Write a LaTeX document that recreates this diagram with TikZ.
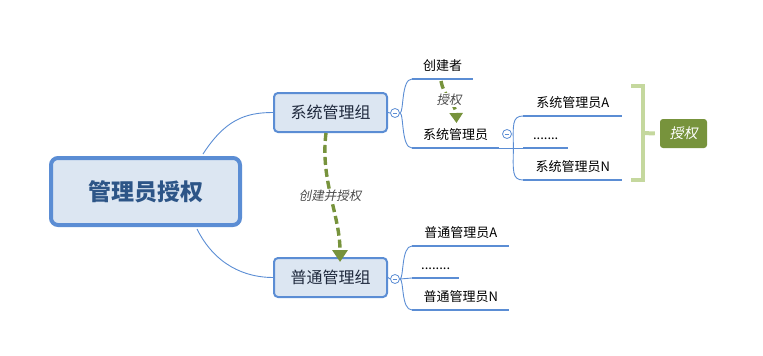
\documentclass[tikz,border=0pt]{standalone}
\usepackage{fontspec}
\setmainfont{Noto Sans CJK SC}
\newfontfamily\itcjk[FakeSlant=0.2]{Noto Sans CJK SC}
\usetikzlibrary{arrows.meta}
\definecolor{mblue}{RGB}{91,141,212}
\definecolor{mfill}{RGB}{220,230,242}
\definecolor{mtext}{RGB}{45,85,135}
\definecolor{dtext}{RGB}{30,40,60}
\definecolor{mgreen}{RGB}{119,147,60}
\definecolor{lgreen}{RGB}{197,216,158}
\tikzset{
  central/.style={draw=mblue, fill=mfill, line width=4pt, rounded corners=7pt,
    minimum width=189pt, minimum height=67pt, inner sep=0pt,
    font=\fontsize{23}{26}\selectfont\bfseries, text=mtext},
  group/.style={draw=mblue, fill=mfill, line width=2pt, rounded corners=4pt,
    minimum width=113pt, minimum height=39pt, inner sep=0pt,
    font=\fontsize{16}{18}\selectfont, text=dtext},
  topic/.style={anchor=south west, inner xsep=0pt, inner ysep=5.5pt,
    text height=11pt, text depth=3pt, font=\fontsize{13}{15}\selectfont, text=black},
  uline/.style={draw=mblue, line width=2.6pt},
  branch/.style={draw=mblue, line width=0.9pt},
  knob/.style={circle, draw=mblue, fill=white, line width=0.8pt, minimum size=9pt, inner sep=0pt,
    path picture={\draw[mblue, line width=0.8pt]
      ([xshift=2.2pt]path picture bounding box.west) -- ([xshift=-2.2pt]path picture bounding box.east);}},
  relarrow/.style={draw=mgreen, line width=3.4pt, dash pattern=on 8pt off 4pt,
    -{Triangle[width=15pt,length=12pt]}},
  rellabel/.style={fill=white, inner sep=1pt, font=\itcjk\fontsize{12.5}{14}\selectfont, text=black!70},
  bracket/.style={draw=lgreen, line width=4pt},
  summary/.style={fill=mgreen, rounded corners=3pt, minimum width=47pt, minimum height=29pt,
    inner sep=0pt, text=white, font=\itcjk\fontsize{14}{16}\selectfont}
}
\begin{document}
\begin{tikzpicture}[x=1pt,y=-1pt]
\useasboundingbox (0,0) rectangle (763,356);
% central and groups
\node[central] (root) at (145.5,191.5) {管理员授权};
\node[group] (sys) at (330.5,112.5) {系统管理组};
\node[group] (gen) at (330.5,277.5) {普通管理组};
\draw[branch] (root.north) ++(57.5,-2) coordinate (rt) .. controls (225,120) and (245,112.5) .. (sys.west);
\draw[branch] (root.south) ++(51.5,2) coordinate (rb) .. controls (215,265) and (245,277.5) .. (gen.west);
% knobs
\node[knob] (k1) at (395,113) {};
\node[knob] (k2) at (395,279) {};
\node[knob] (k3) at (507,134) {};
\draw[branch] (sys.east) -- (k1.west);
\draw[branch] (gen.east) -- (k2.west);
% topics of system group
\node[topic, minimum width=61pt] (creator) at (412,79) {创建者};
\node[topic, minimum width=87pt] (sysadm) at (412,148) {系统管理员};
\foreach \n in {creator,sysadm} \draw[uline] (\n.south west) -- (\n.south east);
\draw[branch] (k1.east) .. controls (404,113) and (401,79) .. (creator.south west);
\draw[branch] (k1.east) .. controls (404,113) and (401,148) .. (sysadm.south west);
% children of sysadm
\node[topic, minimum width=99pt] (sa) at (523,116) {系统管理员A};
\node[topic, minimum width=45pt] (sd) at (523,148) {.......};
\node[topic, minimum width=99pt] (sn) at (523,180) {系统管理员N};
\foreach \n in {sa,sd,sn} \draw[uline] (\n.south west) -- (\n.south east);
\draw[branch] (sysadm.south east) -- (sd.south west);
\draw[branch] (sysadm.south east) ++(14,0) coordinate (sp) .. controls (513,125) and (512,116) .. (sa.south west);
\draw[branch] (sp) .. controls (513,171) and (512,180) .. (sn.south west);
% topics of general group
\node[topic, minimum width=97pt] (ga) at (412,246) {普通管理员A};
\node[topic, minimum width=47pt] (gd) at (412,278) {........};
\node[topic, minimum width=97pt] (gn) at (412,310) {普通管理员N};
\foreach \n in {ga,gd,gn} \draw[uline] (\n.south west) -- (\n.south east);
\draw[branch] (k2.east) .. controls (404,279) and (401,246) .. (ga.south west);
\draw[branch] (k2.east) -- (gd.south west);
\draw[branch] (k2.east) .. controls (404,279) and (401,310) .. (gn.south west);
% relationship arrows
\draw[relarrow] (326,133) coordinate (r1s) .. controls (320,180) and (340,215) .. (340,262) coordinate (r1e);
\node[rellabel] (l1) at (330,196) {创建并授权};
\draw[relarrow, -{Triangle[width=13pt,length=10pt]}] (441,81) coordinate (r2s) .. controls (443,95) and (456,105) .. (456.5,123) coordinate (r2e);
\node[rellabel] (l2) at (449,100) {授权};
% summary bracket
\coordinate (bt) at (643,86);
\coordinate (bb) at (643,180);
\coordinate (bm) at (643,133);
\draw[bracket] (631,86) -- (bt) -- (bb) -- (631,180);
\node[summary] (sum) at (683.5,133.5) {授权};
\draw[bracket] (bm) -- ([xshift=-5pt]sum.west);
\end{tikzpicture}
\end{document}
